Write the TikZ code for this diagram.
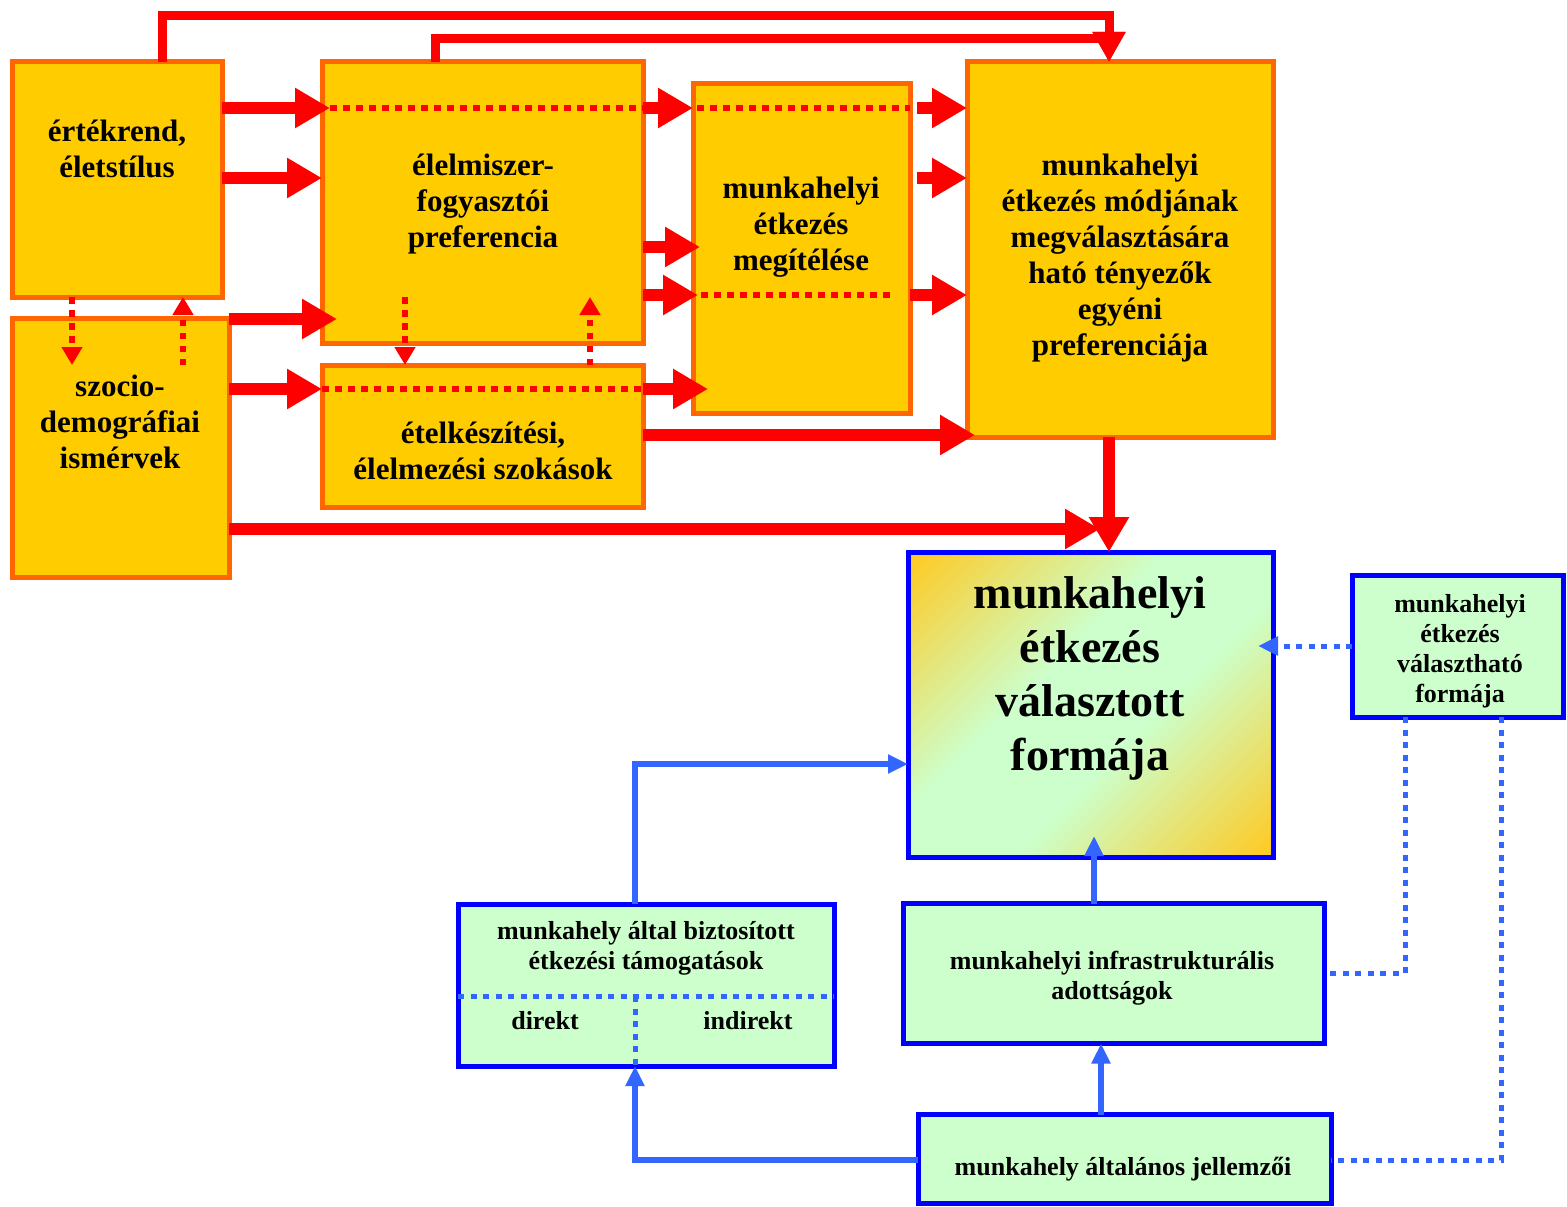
\documentclass[tikz,border=0pt]{standalone}
\usepackage{fontspec}
\setmainfont{Liberation Serif}
\usetikzlibrary{arrows.meta}
\definecolor{boxfill}{HTML}{FFCC00}
\definecolor{boxline}{HTML}{FF6600}
\definecolor{arrred}{HTML}{FF0000}
\definecolor{gfill}{HTML}{CCFFCC}
\definecolor{bline}{HTML}{0000FF}
\definecolor{bconn}{HTML}{3366FF}
\definecolor{gor}{HTML}{FFCA22}
\pgfdeclarehorizontalshading{gshade}{100bp}{color(0bp)=(gor); color(15bp)=(gor); color(42bp)=(gfill); color(58bp)=(gfill); color(85bp)=(gor); color(100bp)=(gor)}
\begin{document}
\begin{tikzpicture}[x=1pt,y=-1pt,
  obox/.style={draw=boxline, fill=boxfill, line width=5pt, rectangle, outer sep=0pt, inner sep=0pt},
  gbox/.style={draw=bline, fill=gfill, line width=5pt, rectangle, outer sep=0pt, inner sep=0pt},
  txtL/.style={font=\fontsize{31}{36}\selectfont\bfseries, align=center, inner sep=0pt},
  txtXL/.style={font=\fontsize{46}{54}\selectfont\bfseries, align=center, inner sep=0pt},
  txtS/.style={font=\fontsize{26}{30}\selectfont\bfseries, align=center, inner sep=0pt},
  rarr/.style={draw=arrred, line width=12.5pt, -{Triangle[length=35pt,width=38pt]}},
  rline/.style={draw=arrred, line width=9pt, -{Triangle[length=30pt,width=31pt]}},
  rdot/.style={draw=arrred, line width=6pt, dash pattern=on 6.5pt off 6.5pt},
  rdarr/.style={rdot, -{Triangle[length=18pt,width=20pt]}},
  barr/.style={draw=bconn, line width=5.5pt, -{Triangle[length=20pt,width=18pt]}},
  bdot/.style={draw=bconn, line width=5pt, dash pattern=on 6pt off 6.5pt},
  bdarr/.style={bdot, -{Triangle[length=20pt,width=18pt]}}
]
\useasboundingbox (0,0) rectangle (1567,1207);

% orange boxes
\node[obox, minimum width=210pt, minimum height=235pt] (A) at (117,179.5) {};
\node[obox, minimum width=217pt, minimum height=259pt] (B) at (120.5,447.5) {};
\node[obox, minimum width=321pt, minimum height=281pt] (C) at (482.5,202.5) {};
\node[obox, minimum width=321pt, minimum height=142pt] (D) at (482.5,436) {};
\node[obox, minimum width=217pt, minimum height=329pt] (E) at (801.5,248.5) {};
\node[obox, minimum width=306pt, minimum height=375pt] (F) at (1120,249.5) {};

% blue boxes
\node[gbox, shade, shading=gshade, shading angle=-45, minimum width=365pt, minimum height=305pt] (G) at (1090.5,704.5) {};
\node[gbox, minimum width=211pt, minimum height=142pt] (H) at (1457.5,646) {};
\node[gbox, minimum width=376pt, minimum height=162pt] (I) at (646,985) {};
\node[gbox, minimum width=421pt, minimum height=140pt] (J) at (1113.5,973.5) {};
\node[gbox, minimum width=413pt, minimum height=89pt] (K) at (1124.5,1159) {};

% red connectors
\draw[rarr, shorten >=-8pt] (A.east |- 0,108) -- (C.west |- 0,108);
\draw[rdot] (330,108) -- (C.east |- 0,108);
\draw[rarr] (C.east |- 0,108) -- (E.west |- 0,108);
\draw[rdot] (697,108) -- (E.east |- 0,108);
\draw[rarr, shorten <=7pt] (E.east |- 0,108) -- (F.west |- 0,108);

\draw[rarr] (A.east |- 0,178) -- (C.west |- 0,178);
\draw[rarr, shorten >=-15pt] (B.east |- 0,319) -- (C.west |- 0,319);

\draw[rarr] (B.east |- 0,389) -- (D.west |- 0,389);
\draw[rdot] (D.west |- 0,389) -- (D.east |- 0,389);
\draw[rarr, shorten >=-15pt] (D.east |- 0,389) -- (E.west |- 0,389);

\draw[rarr, shorten >=-7pt] (C.east |- 0,247) -- (E.west |- 0,247);
\draw[rarr, shorten >=-5pt] (C.east |- 0,295) -- (E.west |- 0,295);
\draw[rdot] (701,295) -- (896,295);
\draw[rarr] (E.east |- 0,295) -- (F.west |- 0,295);
\draw[rarr, shorten <=7pt] (E.east |- 0,178) -- (F.west |- 0,178);
\draw[rarr, shorten >=-8pt] (D.east |- 0,435) -- (F.west |- 0,435);

\coordinate (m9) at (1100,529);
\draw[rarr] (B.east |- 0,529) -- (m9);
\draw[rarr] (F.south -| 1109,0) -- (G.north -| 1109,0);

\draw[rline] (A.north -| 162,0) -- (162,15.5) -| (F.north -| 1109,0);
\draw[rline] (C.north -| 435,0) -- (435,38.5) -| (F.north -| 1109,0);

\draw[rdarr, shorten >=-47pt] (A.south -| 72,0) -- (B.north -| 72,0);
\draw[rdarr, shorten <=-47pt] (B.north -| 183,0) -- (A.south -| 183,0);
\draw[rdarr, shorten <=-46pt] (C.south -| 405,0) -- (D.north -| 405,0);
\draw[rdarr, shorten >=-46pt] (D.north -| 590,0) -- (C.south -| 590,0);

% blue connectors
\draw[barr] (I.north -| 635,0) |- (G.west |- 0,764);
\draw[barr, shorten >=-21pt] (J.north -| 1094,0) -- (G.south -| 1094,0);
\draw[barr] (K.north -| 1101,0) -- (J.south -| 1101,0);
\draw[barr] (K.west |- 0,1160) -| (I.south -| 635,0);
\draw[bdarr, shorten >=-15pt] (H.west |- 0,646) -- (G.east |- 0,646);
\draw[bdot] (H.south -| 1405,0) |- (J.east |- 0,973);
\draw[bdot] (H.south -| 1501,0) |- (K.east |- 0,1160);
\draw[bdot] (I.west |- 0,996) -- (I.east |- 0,996);
\draw[bdot] (635,996) -- (I.south -| 635,0);

% texts
\node[txtL] (At) at (117,148.5) {értékrend,\\életstílus};
\node[txtL] (Bt) at (120,422) {szocio-\\demográfiai\\ismérvek};
\node[txtL] (Ct) at (483,204) {élelmiszer-\\fogyasztói\\preferencia};
\node[txtL] (Dt) at (483,451) {ételkészítési,\\élelmezési szokások};
\node[txtL] (Et) at (801,227) {munkahelyi\\étkezés\\megítélése};
\node[txtL] (Ft) at (1120,258) {munkahelyi\\étkezés módjának\\megválasztására\\ható tényezők\\egyéni\\preferenciája};
\node[txtXL] (Gt) at (1090,678) {munkahelyi\\étkezés\\választott\\formája};
\node[txtS] (Ht) at (1460,651) {munkahelyi\\étkezés\\választható\\formája};
\node[txtS] (It) at (646,948) {munkahely által biztosított\\étkezési támogatások};
\node[txtS] (Jt) at (1112,978.5) {munkahelyi infrastrukturális\\adottságok};
\node[txtS] (Kt) at (1123,1169) {munkahely általános jellemzői};
\node[txtS] (dir) at (545,1021) {direkt};
\node[txtS] (indir) at (748,1021) {indirekt};
\end{tikzpicture}
\end{document}
